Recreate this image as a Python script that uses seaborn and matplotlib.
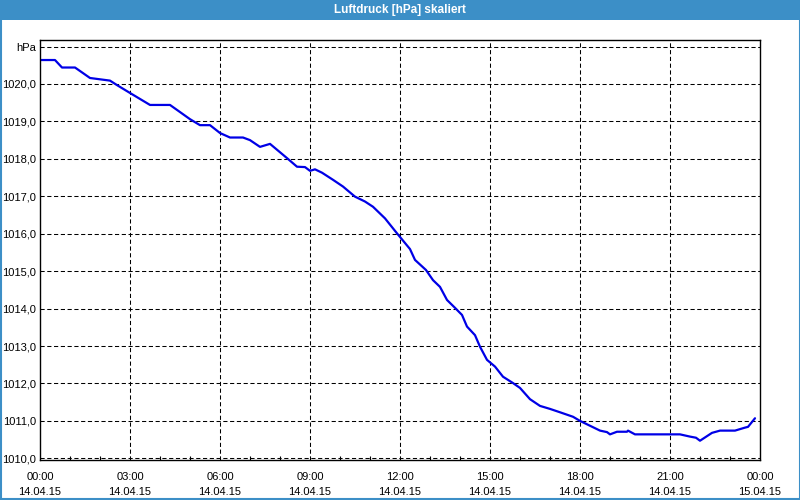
import matplotlib
matplotlib.use("Agg")
import matplotlib.pyplot as plt
import seaborn as sns
import pandas as pd
from matplotlib.patches import Rectangle
from matplotlib.lines import Line2D

# ---- data (hours since 14.04.15 00:00, pressure in hPa) ----
hours = [0.0, 0.5, 0.733, 1.167, 1.667, 2.333, 2.567, 3.0, 3.667, 4.333, 4.667,
         5.0, 5.333, 5.667, 6.0, 6.333, 6.767, 7.0, 7.333, 7.667, 8.233, 8.567,
         8.833, 9.0, 9.167, 9.4, 9.767, 10.1, 10.5, 10.833, 11.1, 11.5, 11.9,
         12.333, 12.5, 12.867, 13.1, 13.333, 13.567, 13.833, 14.067, 14.233,
         14.5, 14.667, 14.9, 15.167, 15.433, 15.767, 16.0, 16.333, 16.667, 17.0,
         17.333, 17.767, 18.0, 18.333, 18.667, 18.9, 19.0, 19.233, 19.567, 19.6,
         19.833, 21.333, 21.667, 21.867, 22.0, 22.4, 22.667, 23.167, 23.5, 23.6,
         23.833]
pressure = [1020.64, 1020.64, 1020.44, 1020.44, 1020.16, 1020.09, 1019.97, 1019.76,
            1019.44, 1019.44, 1019.25, 1019.06, 1018.90, 1018.90, 1018.69, 1018.57,
            1018.57, 1018.50, 1018.32, 1018.40, 1018.02, 1017.79, 1017.78, 1017.68,
            1017.72, 1017.63, 1017.44, 1017.26, 1016.99, 1016.86, 1016.72, 1016.41,
            1016.01, 1015.59, 1015.30, 1015.03, 1014.76, 1014.58, 1014.23, 1014.02,
            1013.83, 1013.52, 1013.29, 1012.98, 1012.63, 1012.45, 1012.18, 1012.01,
            1011.88, 1011.58, 1011.40, 1011.32, 1011.23, 1011.11, 1011.00, 1010.87,
            1010.74, 1010.70, 1010.64, 1010.71, 1010.71, 1010.74, 1010.64, 1010.64,
            1010.58, 1010.55, 1010.47, 1010.68, 1010.74, 1010.74, 1010.82, 1010.84,
            1011.07]

x_ticks = [0, 3, 6, 9, 12, 15, 18, 21, 24]
x_labels = ["00:00\n14.04.15", "03:00\n14.04.15", "06:00\n14.04.15", "09:00\n14.04.15",
            "12:00\n14.04.15", "15:00\n14.04.15", "18:00\n14.04.15", "21:00\n14.04.15",
            "00:00\n15.04.15"]
y_ticks = [1010, 1011, 1012, 1013, 1014, 1015, 1016, 1017, 1018, 1019, 1020, 1021]
y_labels = ["1010,0", "1011,0", "1012,0", "1013,0", "1014,0", "1015,0", "1016,0",
            "1017,0", "1018,0", "1019,0", "1020,0", "hPa"]
title = "Luftdruck [hPa] skaliert"

df = pd.DataFrame({"hours": hours, "pressure": pressure})

sns.set_style("white")
plt.rcParams["font.family"] = ["Liberation Sans", "DejaVu Sans"]

fig = plt.figure(figsize=(8, 5), dpi=100, facecolor="white")
ax = fig.add_axes([40 / 800, 40 / 500, 720 / 800, 420 / 500])
ax.set_facecolor("white")

sns.lineplot(data=df, x="hours", y="pressure", ax=ax, color="#0000e6",
             linewidth=1.6, estimator=None, sort=False)

ax.set_xlim(0, 24)
ax.set_ylim(1009.955, 1021.175)

ax.set_xticks(x_ticks)
ax.set_xticklabels(x_labels, fontsize=8, color="#000000", linespacing=1.6)
ax.set_yticks(y_ticks)
ax.set_yticklabels(y_labels, fontsize=8, color="#000000")
ax.set_xticks(range(0, 25), minor=True)
ax.tick_params(axis="x", which="major", length=0, pad=9)
ax.tick_params(axis="y", which="major", length=0, pad=3)
ax.tick_params(axis="x", which="minor", direction="in", length=3, width=0.8,
               color="black", bottom=True)
ax.set_xlabel("")
ax.set_ylabel("")

for v in y_ticks:
    ax.axhline(v, color="black", linewidth=0.75, linestyle=(0, (4, 2.5)), zorder=1)
for h in x_ticks[1:-1]:
    ax.axvline(h, color="black", linewidth=0.75, linestyle=(0, (4, 2.5)), zorder=1)

for s in ax.spines.values():
    s.set_visible(True)
    s.set_color("black")
    s.set_linewidth(1.0)

# title bar and frame
fig.patches.append(Rectangle((0, 480 / 500), 1, 20 / 500, transform=fig.transFigure,
                             facecolor="#3c8fc7", edgecolor="none", zorder=0))
fig.text(0.5, 490 / 500, title, ha="center", va="center", color="white",
         fontsize=8.5, fontweight="bold")
frame_c = "#3c8fc7"
fig.add_artist(Line2D([0.5 / 800, 0.5 / 800], [0, 1], transform=fig.transFigure,
                      color=frame_c, linewidth=1.5))
fig.add_artist(Line2D([799.5 / 800, 799.5 / 800], [0, 1], transform=fig.transFigure,
                      color=frame_c, linewidth=1.5))
fig.add_artist(Line2D([0, 1], [1 / 500, 1 / 500], transform=fig.transFigure,
                      color=frame_c, linewidth=1.5))

fig.savefig("out.png", dpi=100, facecolor="white")
